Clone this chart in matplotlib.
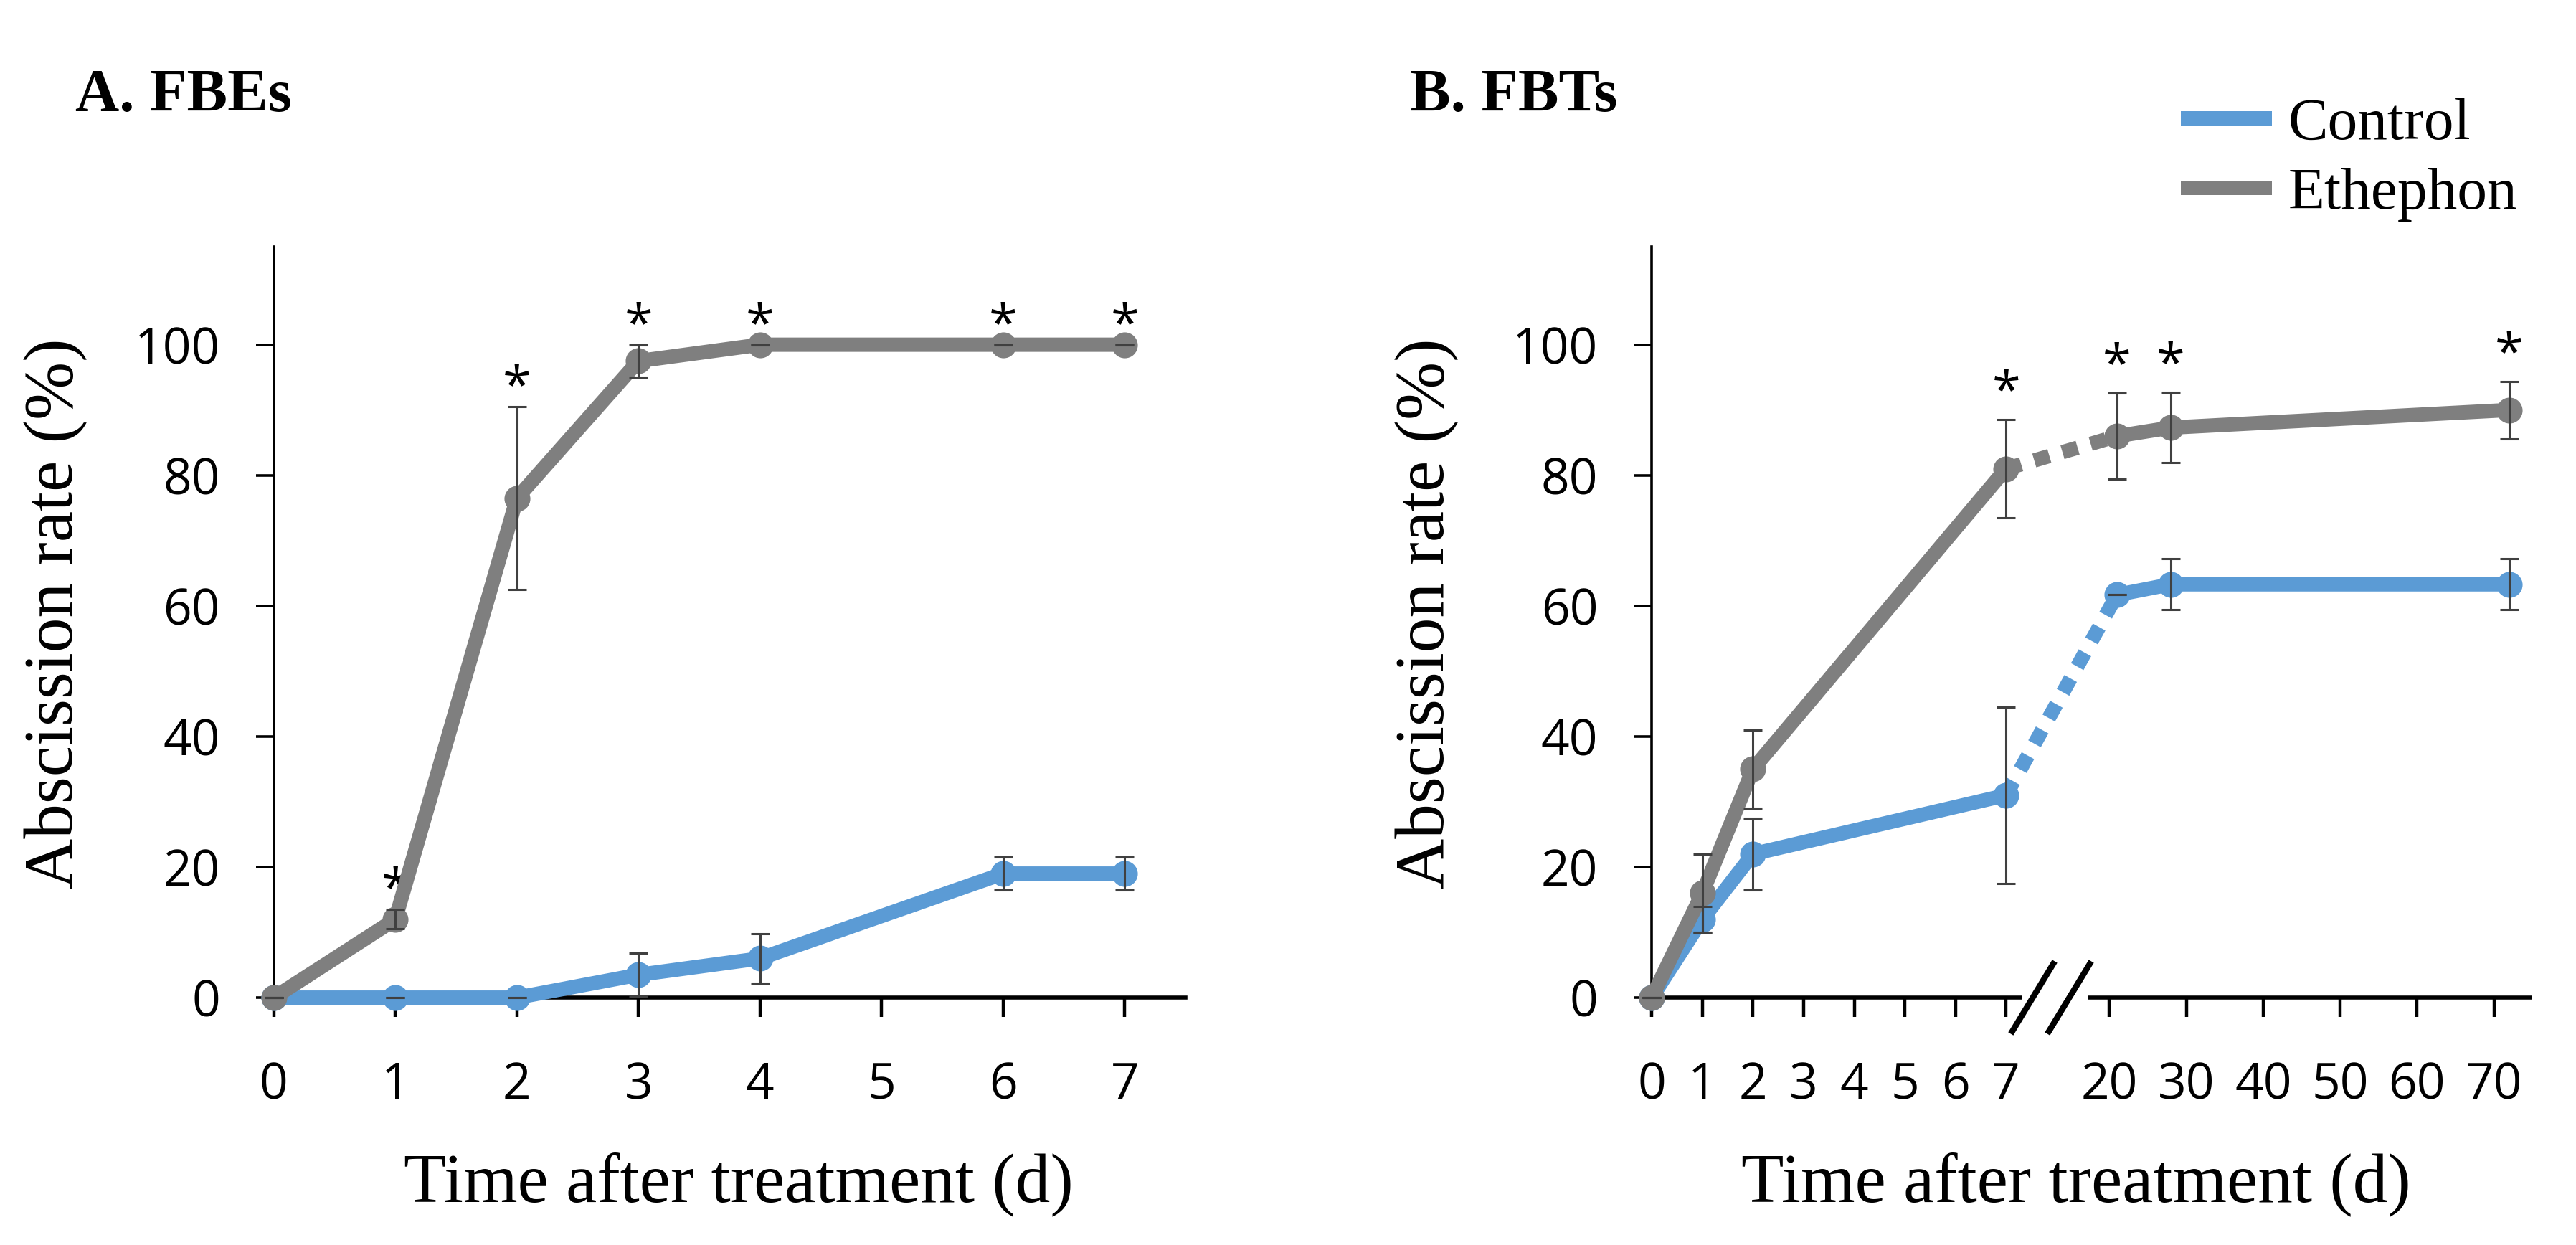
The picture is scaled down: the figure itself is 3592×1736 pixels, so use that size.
import numpy as np
import matplotlib
matplotlib.use("Agg")
import matplotlib.pyplot as plt
from matplotlib.lines import Line2D

# panel A: FBEs
days_a = [0, 1, 2, 3, 4, 6, 7]
eth_a = [0, 12, 76.5, 97.5, 100, 100, 100]
eth_a_err = [0, 1.5, 14, 2.5, 0, 0, 0]
ctl_a = [0, 0, 0, 3.5, 6, 19, 19]
ctl_a_err = [0, 0, 0, 3.3, 3.8, 2.5, 2.5]
sig_a = [1, 2, 3, 4, 6, 7]
ticks_a = [0, 1, 2, 3, 4, 5, 6, 7]

# panel B: FBTs
days_b = [0, 1, 2, 7, 21, 28, 72]
eth_b = [0, 16, 35, 81, 86, 87.3, 90]
eth_b_err = [0, 6, 6, 7.5, 6.6, 5.4, 4.4]
ctl_b = [0, 12, 22, 31, 61.7, 63.3, 63.3]
ctl_b_err = [0, 2, 5.5, 13.5, 0, 3.9, 3.9]
sig_b = [7, 21, 28, 72]
ticks_b = [0, 1, 2, 3, 4, 5, 6, 7, 20, 30, 40, 50, 60, 70]

BLUE = "#5B9BD5"
GREY = "#7F7F7F"
ERR = "#404040"
TICKFONT = ["Open Sans", "DejaVu Sans"]
SERIF = ["Liberation Serif", "DejaVu Serif"]

LW = 7.2
MS = 12

# broken x axis for panel B: 0-7 linear, 20+ compressed
GAP = 2.04
K = 0.152


def fwd(t):
    t = np.asarray(t, float)
    return np.where(t <= 7, t, np.where(t <= 20, 7 + (t - 7) * GAP / 13, 7 + GAP + (t - 20) * K))


def inv(p):
    p = np.asarray(p, float)
    return np.where(p <= 7, p, np.where(p <= 7 + GAP, 7 + (p - 7) * 13 / GAP, 20 + (p - 7 - GAP) / K))


fig = plt.figure(figsize=(17.96, 8.68), dpi=200)
ax_a = fig.add_axes([0.1063, 0.1987, 0.3539, 0.6031])
ax_b = fig.add_axes([0.6412, 0.1987, 0.3410, 0.6031])


def style_axes(ax):
    ax.set_ylim(0, 115)
    ax.set_yticks([0, 20, 40, 60, 80, 100])
    for s in ["top", "right"]:
        ax.spines[s].set_visible(False)
    ax.spines["left"].set_linewidth(1.3)
    ax.spines["bottom"].set_linewidth(2.0)
    ax.tick_params(axis="x", direction="out", length=9.7, width=1.6, pad=22)
    ax.tick_params(axis="y", direction="out", length=9.0, width=1.3, pad=18)
    for lab in ax.get_xticklabels() + ax.get_yticklabels():
        lab.set_fontfamily(TICKFONT)
        lab.set_fontsize(25)


def errbars(ax, x, y, e):
    ax.errorbar(x, y, yerr=e, fmt="none", ecolor=ERR, elinewidth=1.1,
                capsize=4.7, capthick=1.1, zorder=5, clip_on=False)


# ---- panel A ----
ax_a.set_xlim(0, 7.5)
ax_a.plot(days_a, ctl_a, color=BLUE, lw=LW, marker="o", ms=MS, clip_on=False, zorder=3)
ax_a.plot(days_a, eth_a, color=GREY, lw=LW, marker="o", ms=MS, clip_on=False, zorder=4)
errbars(ax_a, days_a, ctl_a, ctl_a_err)
errbars(ax_a, days_a, eth_a, eth_a_err)
ax_a.set_xticks(ticks_a)
style_axes(ax_a)
for d in sig_a:
    i = days_a.index(d)
    ax_a.text(d, eth_a[i] + eth_a_err[i] + 2.8, "*", ha="center", va="center",
              fontsize=26, family=TICKFONT)

# ---- panel B ----
ax_b.set_xscale("function", functions=(fwd, inv))
ax_b.set_xlim(0, 74.7)
for y, col, z in [(ctl_b, BLUE, 3), (eth_b, GREY, 4)]:
    ax_b.plot(days_b[:4], y[:4], color=col, lw=LW, marker="o", ms=MS, clip_on=False, zorder=z)
    ax_b.plot(days_b[3:5], y[3:5], color=col, lw=LW, ls=(0, (1.1, 0.95)),
              dash_capstyle="butt", clip_on=False, zorder=z)
    ax_b.plot(days_b[4:], y[4:], color=col, lw=LW, marker="o", ms=MS, clip_on=False, zorder=z)
errbars(ax_b, days_b, ctl_b, ctl_b_err)
errbars(ax_b, days_b, eth_b, eth_b_err)
ax_b.set_xticks(ticks_b)
ax_b.xaxis.set_minor_locator(matplotlib.ticker.NullLocator())
ax_b.set_xticklabels([str(t) for t in ticks_b])
style_axes(ax_b)
for d in sig_b:
    i = days_b.index(d)
    ax_b.text(d, eth_b[i] + eth_b_err[i] + 4.0, "*", ha="center", va="center",
              fontsize=26, family=TICKFONT)

# axis break: split bottom spine and draw the "//"
ax_b.spines["bottom"].set_visible(False)
trans = ax_b.get_xaxis_transform()
ax_b.plot([0, 8.78], [0, 0], color="black", lw=2.0, transform=trans, clip_on=False, zorder=2)
ax_b.plot([17.5, 74.7], [0, 0], color="black", lw=2.0, transform=trans, clip_on=False, zorder=2)
fig.add_artist(Line2D([2806 / 3592, 2863 / 3592], [1 - 1438 / 1736, 1 - 1344 / 1736],
                      color="black", lw=3.0))
fig.add_artist(Line2D([2857 / 3592, 2914 / 3592], [1 - 1438 / 1736, 1 - 1344 / 1736],
                      color="black", lw=3.0))

# labels
for x in [0.2868, 0.806]:
    fig.text(x, 0.0351, "Time after treatment (d)", ha="center", va="baseline",
             fontsize=35, family=SERIF)
for x in [0.0217, 0.554]:
    fig.text(x, 0.5075, "Abscission rate (%)", ha="center", va="center", rotation=90,
             fontsize=35, family=SERIF)
fig.text(0.0292, 0.9107, "A. FBEs", ha="left", va="baseline", fontsize=30.5,
         fontweight="bold", family=SERIF)
fig.text(0.5473, 0.9107, "B. FBTs", ha="left", va="baseline", fontsize=30.5,
         fontweight="bold", family=SERIF)

handles = [Line2D([], [], color=BLUE, lw=LW), Line2D([], [], color=GREY, lw=LW)]
leg = fig.legend(handles, ["Control", "Ethephon"], loc="upper left",
                 bbox_to_anchor=(0.8494, 0.922), frameon=False, borderpad=0,
                 borderaxespad=0, handlelength=1.28, handletextpad=0.4,
                 labelspacing=0.25, prop={"family": SERIF, "size": 30})

fig.savefig("out.png", dpi=200)
